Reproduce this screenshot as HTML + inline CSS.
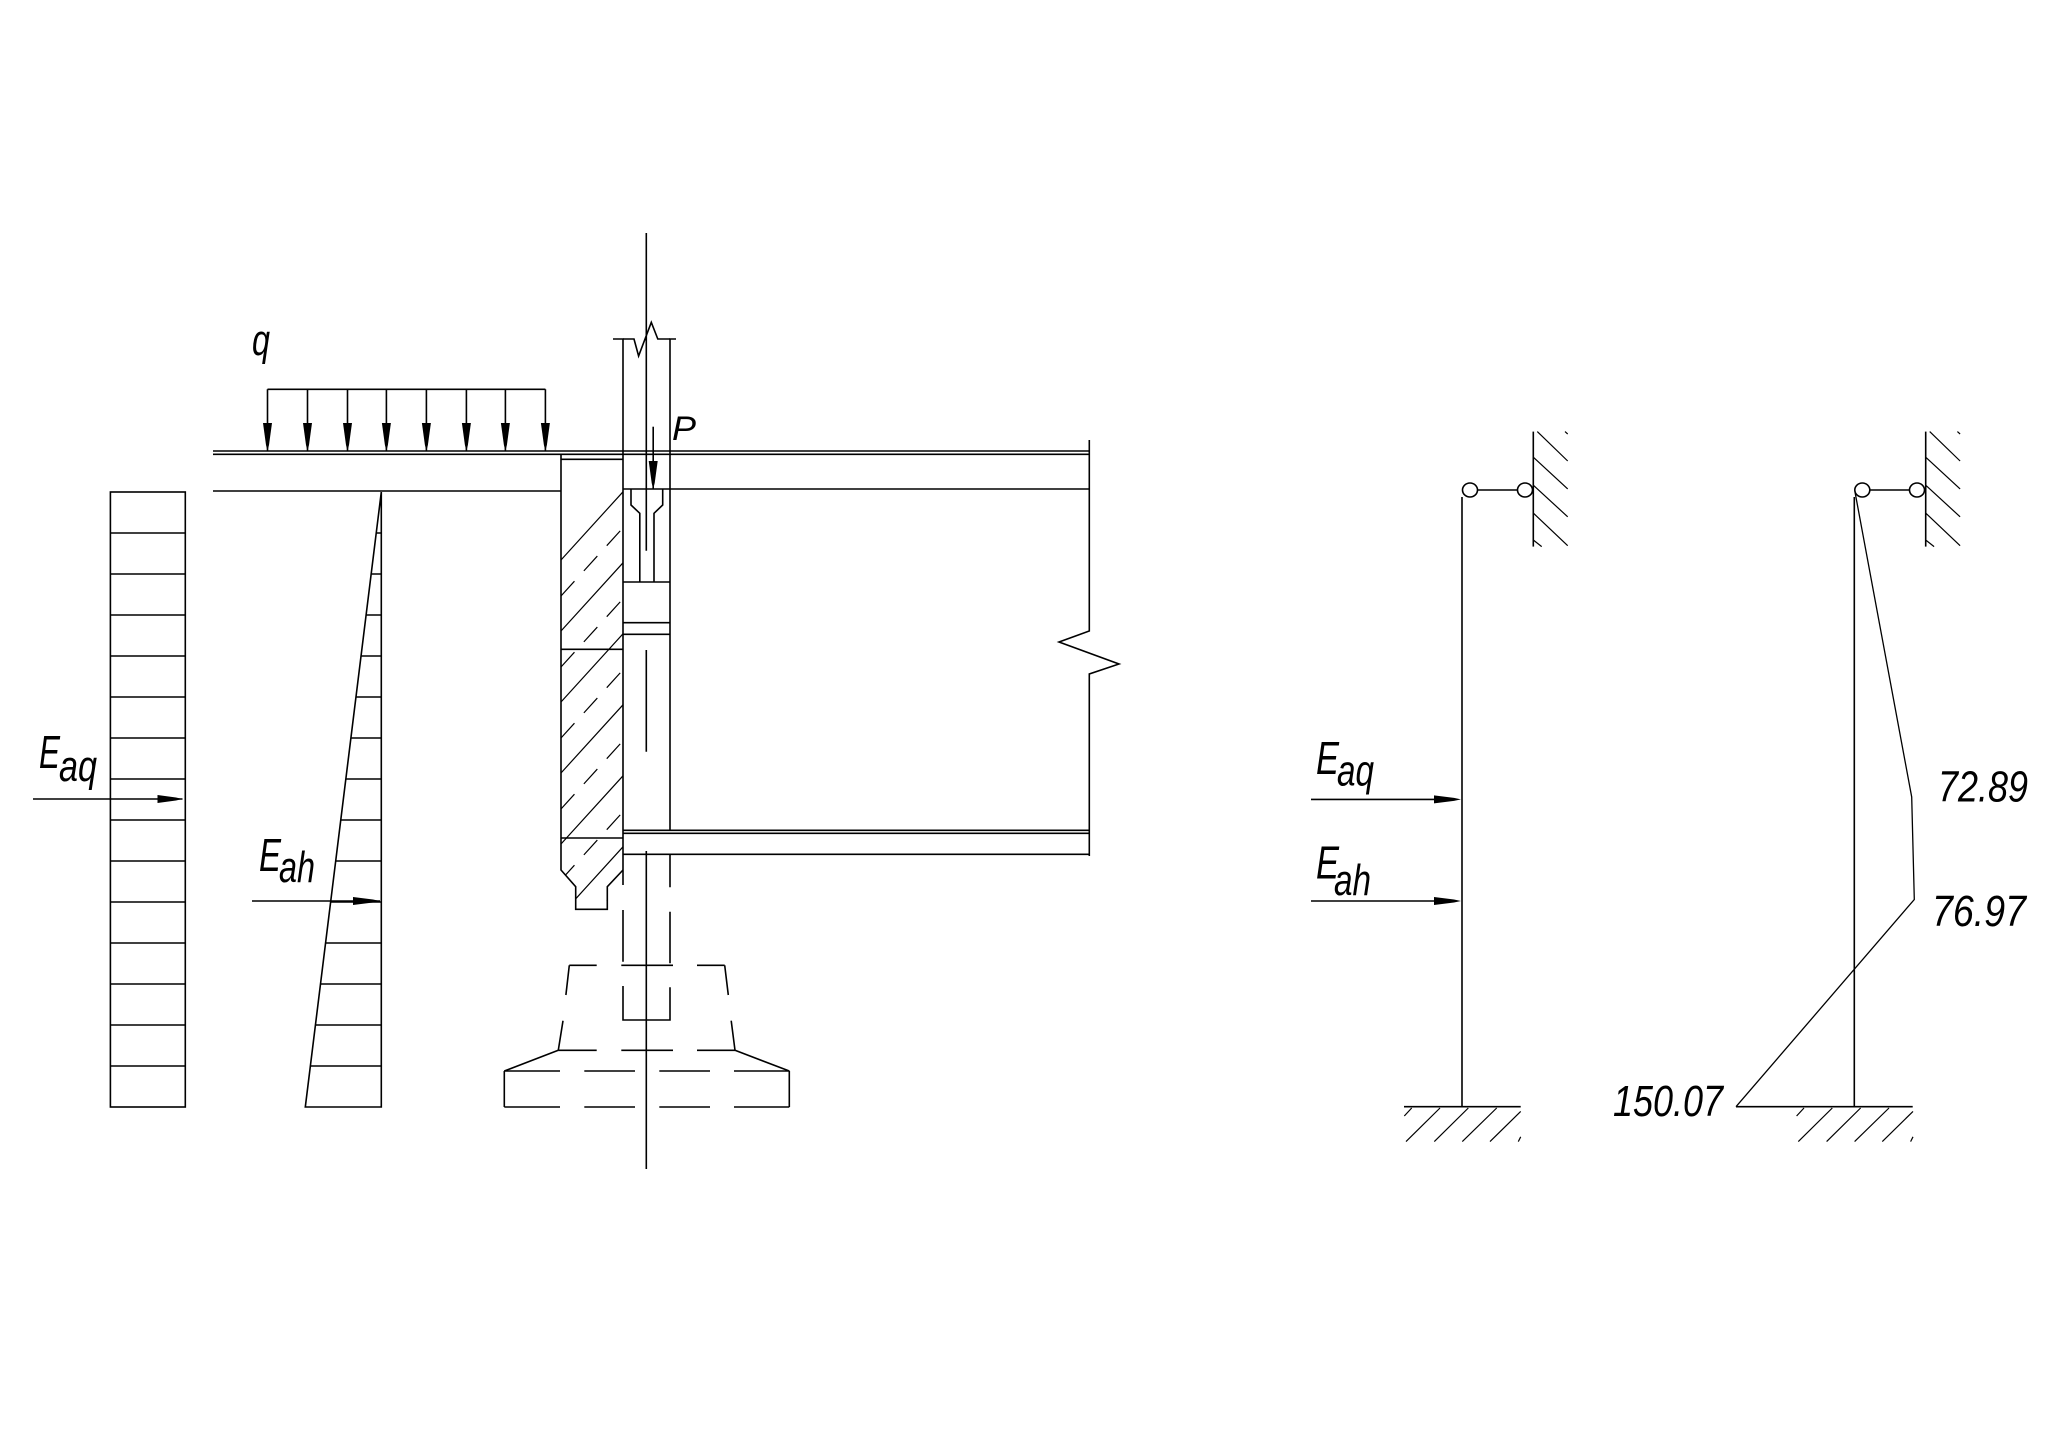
<!DOCTYPE html>
<html><head><meta charset="utf-8"><style>
html,body{margin:0;padding:0;background:#fff;}
svg{display:block;}
text{font-family:"Liberation Sans",sans-serif;font-style:italic;fill:#000;stroke:none;}
</style></head><body>
<svg width="2048" height="1442" viewBox="0 0 2048 1442" xmlns="http://www.w3.org/2000/svg">
<defs>
<clipPath id="wallclip"><polygon points="561,459.3 623,459.3 623,885 607.3,886.7 607.3,909.3 575.7,909.3 575.7,886.7 561,870"/></clipPath>
</defs>
<g fill="none" stroke="#000" stroke-width="1.6">
<rect x="110.4" y="492" width="74.9" height="615"/>
<path d="M110.4 533H185.3M110.4 574H185.3M110.4 615H185.3M110.4 656H185.3M110.4 697H185.3M110.4 738H185.3M110.4 779H185.3M110.4 820H185.3M110.4 861H185.3M110.4 902H185.3M110.4 943H185.3M110.4 984H185.3M110.4 1025H185.3M110.4 1066H185.3"/>
<path d="M381.3 492V1107H305.3L381.3 492"/>
<path d="M376.2 533H381.3M371.2 574H381.3M366.1 615H381.3M361.1 656H381.3M356 697H381.3M350.9 738H381.3M345.9 779H381.3M340.8 820H381.3M335.7 861H381.3M330.7 902H381.3M325.6 943H381.3M320.5 984H381.3M315.5 1025H381.3M310.4 1066H381.3"/>
<path d="M33 799H182.5"/>
<path d="M252 901H380"/>
<path d="M267.5 389.3H545.4"/>
<path d="M267.5 389.3V451M307.5 389.3V451M347.5 389.3V451M386.4 389.3V451M426.4 389.3V451M466.4 389.3V451M505.4 389.3V451M545.4 389.3V451"/>
<path d="M213 451H1089.3M213 454.3H1089.3"/>
<path d="M213 491H561"/>
<path d="M623 489H1089.3"/>
<path d="M1089.3 440V631L1059 642L1119 664L1089.3 674V856"/>
<path d="M623 830.3H1089.3M623 833.3H1089.3M623 854.3H1089.3"/>
<path d="M561 454.3V870L575.7 886.7V909.3H607.3V886.7L623 870"/>
<path d="M561 459.3H623M561 649.3H623M561 838H623"/>
<path d="M613 339H623V885M623 910V961.7M623 986V1020H670V987.3M670 963.3V911.7M670 887.3V854.3M670 830.3V339H676"/>
<path d="M623 339L634 339L638.6 356L651.3 322.3L657.8 339L670 339"/>
<path d="M631 489V505L639.8 513.3V582M662.7 489V505L654 513.3V582"/>
<path d="M623 582H670M623 622.7H670M623 634.3H670"/>
<path d="M646.3 233V550.7M646.3 650V751.7M646.3 851V1169"/>
<path d="M653.2 426.7V489"/>
<path d="M569.3 965.3H596.7M621.3 965.3H673M697 965.3H724.7"/>
<path d="M558.3 1050.3H596.7M621.3 1050.3H673M697 1050.3H735"/>
<path d="M569.3 965.3L565.9 995M563 1020.7L558.3 1050.3M724.7 965.3L728.3 995M731.2 1020.7L735 1050.3"/>
<path d="M558.3 1050.3L504.3 1071M735 1050.3L789.3 1071"/>
<path d="M504.3 1071H560M584.3 1071H635M659.3 1071H710M734 1071H789.3"/>
<path d="M504.3 1107H560M584.3 1107H635M659.3 1107H710M734 1107H789.3"/>
<path d="M504.3 1071V1107M789.3 1071V1107"/>
</g>
<g clip-path="url(#wallclip)" fill="none" stroke="#000" stroke-width="1.2">
<path d="M561 560L661 450M561 631L661 521M561 702L661 592M561 773L661 663M561 844L661 734M561 915L661 805M561 986L661 876"/>
<path stroke-dasharray="20 14" d="M561 596L661 486M561 667L661 557M561 738L661 628M561 809L661 699M561 880L661 770M561 951L661 841"/>
</g>
<g fill="#000" stroke="none">
<polygon points="263,423 272,423 269,445 267.5,451 266,445"/>
<polygon points="303,423 312,423 309,445 307.5,451 306,445"/>
<polygon points="343,423 352,423 349,445 347.5,451 346,445"/>
<polygon points="381.9,423 390.9,423 387.9,445 386.4,451 384.9,445"/>
<polygon points="421.9,423 430.9,423 427.9,445 426.4,451 424.9,445"/>
<polygon points="461.9,423 470.9,423 467.9,445 466.4,451 464.9,445"/>
<polygon points="500.9,423 509.9,423 506.9,445 505.4,451 503.9,445"/>
<polygon points="540.9,423 549.9,423 546.9,445 545.4,451 543.9,445"/>
<polygon points="648.7,461 657.7,461 654.7,483 653.2,489 651.7,483"/>
<polygon points="157.5,795 176,797.5 182.5,799 176,800.5 157.5,803"/>
<polygon points="353,897 373,899.5 380,901 373,902.5 353,905"/>
<polygon points="1434,795.4 1454,797.9 1461,799.4 1454,800.9 1434,803.4"/>
<polygon points="1434,897 1454,899.5 1461,901 1454,902.5 1434,905"/>
</g>
<g fill="none" stroke="#000" stroke-width="1.6">
<path d="M1462 497V1106.7"/>
<path d="M1311 799.4H1440M1311 901H1440"/>
<ellipse cx="1470" cy="490" rx="7.5" ry="7"/>
<ellipse cx="1525" cy="490" rx="7.5" ry="7"/>
<path d="M1477.5 490H1517.5"/>
<path d="M1533.3 431.6V546.6"/>
<path stroke-width="1.2" d="M1537.3 431.6L1567.7 461M1533.3 457.2L1567.7 488.9M1533.3 485.2L1567.7 516.8M1533.3 513.1L1567.7 545.7M1533.3 540L1541.7 546.6M1565 431.6L1567.7 434"/>
<path d="M1404 1106.7H1520.7"/>
<path stroke-width="1.2" d="M1411.7 1108L1404.3 1116M1440 1108L1406 1141.6M1468.3 1108L1434.3 1141.6M1496.7 1108L1462.3 1141.6M1520.7 1111.4L1490 1141.6M1520.7 1136.8L1518.3 1141.6"/>
</g>
<g fill="none" stroke="#000" stroke-width="1.6">
<path d="M1854.3 497V1106.7"/>
<ellipse cx="1862.3" cy="490" rx="7.5" ry="7"/>
<ellipse cx="1917" cy="490" rx="7.5" ry="7"/>
<path d="M1869.8 490H1909.5"/>
<path d="M1925.7 431.6V546.6"/>
<path stroke-width="1.2" d="M1929.7 431.6L1960.1 461M1925.7 457.2L1960.1 488.9M1925.7 485.2L1960.1 516.8M1925.7 513.1L1960.1 545.7M1925.7 540L1934.1 546.6M1957.4 431.6L1960.1 434"/>
<path d="M1736 1106.7H1912.7"/>
<path stroke-width="1.2" d="M1804 1108L1796.6 1116M1832.3 1108L1798.3 1141.6M1860.6 1108L1826.6 1141.6M1889 1108L1854.6 1141.6M1913 1111.4L1882.3 1141.6M1913 1136.8L1910.6 1141.6"/>
<path stroke-width="1.3" d="M1855 492L1911.7 797L1914.3 899.5L1736 1106.7"/>
</g>
<text x="252" y="355" font-size="44" textLength="18" lengthAdjust="spacingAndGlyphs">q</text>
<text x="672" y="440" font-size="34" textLength="24" lengthAdjust="spacingAndGlyphs">P</text>
<text x="39" y="768" font-size="46" textLength="21" lengthAdjust="spacingAndGlyphs">E</text>
<text x="59" y="781" font-size="44" textLength="38" lengthAdjust="spacingAndGlyphs">aq</text>
<text x="259" y="871" font-size="46" textLength="22" lengthAdjust="spacingAndGlyphs">E</text>
<text x="279" y="882" font-size="44" textLength="36" lengthAdjust="spacingAndGlyphs">ah</text>
<text x="1316" y="774" font-size="46" textLength="23" lengthAdjust="spacingAndGlyphs">E</text>
<text x="1337" y="785.5" font-size="44" textLength="37" lengthAdjust="spacingAndGlyphs">aq</text>
<text x="1316" y="878.6" font-size="46" textLength="23" lengthAdjust="spacingAndGlyphs">E</text>
<text x="1334" y="895" font-size="44" textLength="37" lengthAdjust="spacingAndGlyphs">ah</text>
<text x="1938" y="801.7" font-size="44" textLength="90" lengthAdjust="spacingAndGlyphs">72.89</text>
<text x="1932" y="926" font-size="44" textLength="94" lengthAdjust="spacingAndGlyphs">76.97</text>
<text x="1613" y="1116" font-size="44" textLength="110" lengthAdjust="spacingAndGlyphs">150.07</text>
</svg>
</body></html>
